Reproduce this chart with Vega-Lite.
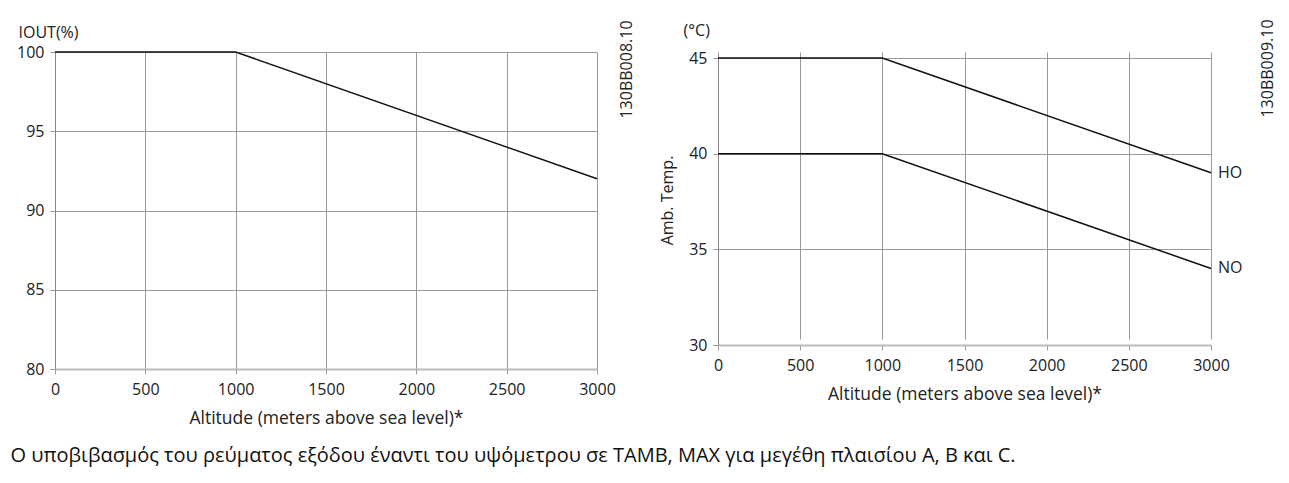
{
  "$schema": "https://vega.github.io/schema/vega-lite/v6.json",
  "background": "white",
  "padding": {"left": 10, "top": 18, "right": 5, "bottom": 5},
  "spacing": 25,
  "title": {
    "text": "Ο υποβιβασμός του ρεύματος εξόδου έναντι του υψόμετρου σε TAMB, MAX για μεγέθη πλαισίου A, B και C.",
    "orient": "bottom",
    "anchor": "start",
    "font": "Open Sans",
    "fontSize": 20,
    "fontWeight": "normal",
    "color": "#111",
    "offset": 19,
    "dx": -6
  },
  "config": {
    "view": {"stroke": null},
    "axis": {
      "labelFont": "Open Sans",
      "labelFontSize": 16,
      "labelColor": "#222",
      "titleFont": "Open Sans",
      "titleFontSize": 16,
      "titleFontWeight": "normal",
      "titleColor": "#222",
      "gridColor": "#999",
      "gridOpacity": 1,
      "gridWidth": 1,
      "tickColor": "#999",
      "tickSize": 5,
      "domainColor": "#888",
      "labelFlush": false,
      "format": "d"
    }
  },
  "hconcat": [
    {
      "width": 542,
      "height": 317,
      "data": {"values": [
        {"alt": 0, "iout": 100},
        {"alt": 1000, "iout": 100},
        {"alt": 3000, "iout": 92}
      ]},
      "resolve": {"scale": {"y": "independent"}},
      "layer": [
        {
          "mark": {"type": "line", "color": "#111", "strokeWidth": 1.5},
          "encoding": {
            "x": {"field": "alt", "type": "quantitative",
              "scale": {"domain": [0, 3000], "nice": false},
              "axis": {"values": [0, 500, 1000, 1500, 2000, 2500, 3000], "title": "Altitude (meters above sea level)*",
                "labelPadding": 7, "titlePadding": 12, "titleFontSize": 17.5, "domainColor": "#bbb", "domainWidth": 2}},
            "y": {"field": "iout", "type": "quantitative",
              "scale": {"domain": [80, 100], "nice": false, "zero": false},
              "axis": {"values": [80, 85, 90, 95, 100], "title": "IOUT(%)", "labelPadding": 6,
                "titleAngle": 0, "titleX": -37, "titleY": -20, "titleAlign": "left", "titleBaseline": "middle"}}
          }
        },
        {
          "mark": {"type": "line", "strokeOpacity": 0},
          "encoding": {
            "x": {"field": "alt", "type": "quantitative"},
            "y": {"field": "iout", "type": "quantitative",
              "scale": {"domain": [80, 100], "nice": false, "zero": false},
              "axis": {"orient": "right", "labels": false, "ticks": false, "domain": false, "grid": false,
                "title": "130BB008.10", "titleAngle": 270, "titleX": 29, "titleY": 17, "titleAlign": "center", "titleBaseline": "middle"}}
          }
        }
      ]
    },
    {
      "width": 493,
      "height": 293,
      "data": {"values": [
        {"alt": 0, "temp": 45, "mode": "HO"},
        {"alt": 1000, "temp": 45, "mode": "HO"},
        {"alt": 3000, "temp": 39, "mode": "HO"},
        {"alt": 0, "temp": 40, "mode": "NO"},
        {"alt": 1000, "temp": 40, "mode": "NO"},
        {"alt": 3000, "temp": 34, "mode": "NO"}
      ]},
      "resolve": {"scale": {"x": "independent", "y": "independent"}},
      "layer": [
        {
          "mark": {"type": "line", "color": "#111", "strokeWidth": 1.5},
          "encoding": {
            "x": {"field": "alt", "type": "quantitative",
              "scale": {"domain": [0, 3000], "nice": false},
              "axis": {"values": [0, 500, 1000, 1500, 2000, 2500, 3000], "title": "Altitude (meters above sea level)*",
                "labelPadding": 7, "titlePadding": 12, "titleFontSize": 17.5, "domainColor": "#bbb", "domainWidth": 2}},
            "y": {"field": "temp", "type": "quantitative",
              "scale": {"domain": [30, 45], "nice": false, "zero": false, "range": [293, 6]},
              "axis": {"values": [30, 35, 40, 45], "title": "Amb. Temp.", "labelPadding": 6,
                "titleAngle": 270, "titleX": -51, "titleY": 148, "titleAlign": "center", "titleBaseline": "middle"}},
            "detail": {"field": "mode"}
          }
        },
        {
          "transform": [{"filter": "datum.alt == 3000"}],
          "mark": {"type": "text", "align": "left", "baseline": "middle", "dx": 7, "font": "Open Sans", "fontSize": 16, "color": "#222"},
          "encoding": {
            "x": {"field": "alt", "type": "quantitative",
              "scale": {"domain": [0, 3000], "nice": false},
              "axis": {"orient": "top", "labels": false, "ticks": false, "domain": false, "grid": false,
                "title": "(°C)", "titleX": -35, "titleY": -22, "titleAlign": "left", "titleBaseline": "middle"}},
            "y": {"field": "temp", "type": "quantitative",
              "scale": {"domain": [30, 45], "nice": false, "zero": false, "range": [293, 6]},
              "axis": {"orient": "right", "labels": false, "ticks": false, "domain": false, "grid": false,
                "title": "130BB009.10", "titleAngle": 270, "titleX": 56, "titleY": 16, "titleAlign": "center", "titleBaseline": "middle"}},
            "text": {"field": "mode"}
          }
        }
      ]
    }
  ]
}
